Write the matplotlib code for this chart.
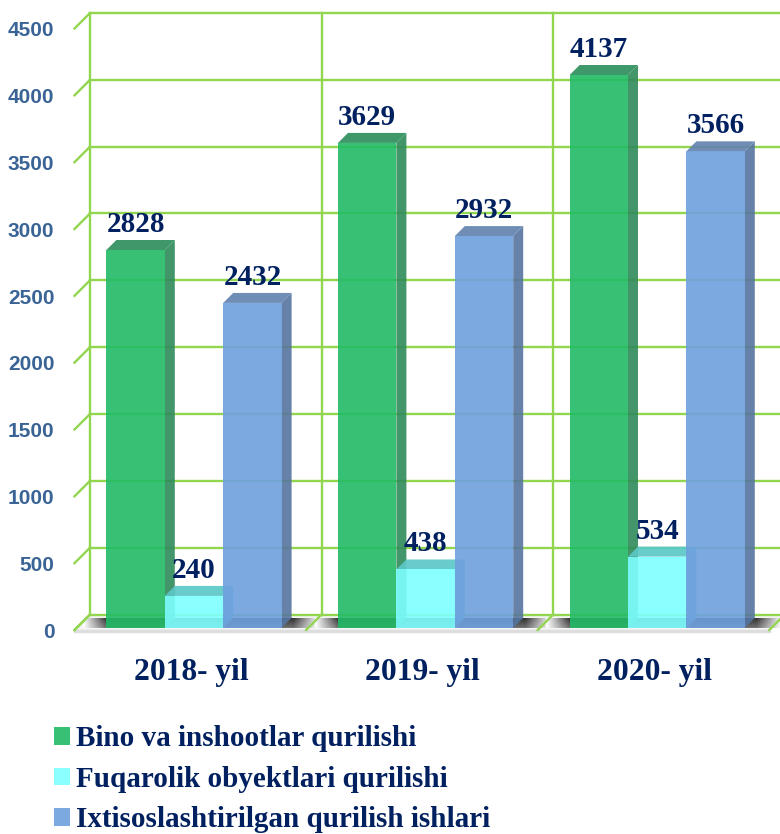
import numpy as np
import matplotlib
matplotlib.use('Agg')
import matplotlib.pyplot as plt
from matplotlib.patches import Polygon

# Data
years = ['2018- yil', '2019- yil', '2020- yil']
bino = [2828, 3629, 4137]
fuqarolik = [240, 438, 534]
ixtisos = [2432, 2932, 3566]
series_names = ['Bino va inshootlar qurilishi',
                'Fuqarolik obyektlari qurilishi',
                'Ixtisoslashtirilgan qurilish ishlari']
y_ticks = [0, 500, 1000, 1500, 2000, 2500, 3000, 3500, 4000, 4500]

# Colours: front, top, side
colors = [('#22BB66', '#2E8F5C', '#2E8A5A'),
          ('#7DFFFF', '#5CC8C8', '#55C8D8'),
          ('#6FA0DE', '#6483B0', '#56759F')]
grid_color = '#92D650'
navy = '#002060'
W, H = 780, 834
group_px = 231.6    # pixels per category
bar_width = 58.4 / group_px
bar_depth = 10      # px
wall_depth = 15.5   # px

fig = plt.figure(figsize=(W / 100, H / 100), dpi=100)
left_px, right_px, bottom_px, top_px = 74.5, 780, 630, 28.5
ax = fig.add_axes([left_px / W, 1 - bottom_px / H,
                   (right_px - left_px) / W, (bottom_px - top_px) / H])
ax.set_xlim((left_px - 194) / group_px, (right_px - 194) / group_px)
ax.set_ylim(0, 4500)
ax.axis('off')
xlim = ax.get_xlim()

px_x = 1 / group_px
px_y = 4500 / (bottom_px - top_px)
x0 = xlim[0]
wall_x = x0 + wall_depth * px_x
wall_y = wall_depth * px_y

# white floor, grey front edge and the dark shadow behind the bars
for i in range(3):
    xl = x0 + i
    ax.add_patch(Polygon([(xl, 0), (xl + wall_depth * px_x, wall_y),
                          (xl + 1 + wall_depth * px_x, wall_y), (xl + 1, 0)],
                         fc='#F4F4F4', ec='none', zorder=1))
    grad = np.concatenate([np.linspace(0, 1, 24), np.ones(186), np.linspace(1, 0, 26)])
    shade = np.tile(grad, (10, 1))
    shade = shade * np.linspace(1, 0.7, 10)[:, None]
    ax.imshow(1 - 0.8 * shade, cmap='gray', vmin=0, vmax=1, aspect='auto', zorder=1.5,
              extent=(i - 111 * px_x, i + 125 * px_x, 2 * px_y, 12 * px_y))
ax.set_xlim(xlim)
ax.set_ylim(0, 4500)
ax.plot([x0, x0 + 3], [-1 * px_y] * 2, color='#DDDDDD', lw=2.5, clip_on=False, zorder=1.6)

# back wall grid, with the diagonals running to the front
for v in y_ticks:
    ax.plot([wall_x, 2.6], [v + wall_y] * 2, color=grid_color, lw=1.7, zorder=2, clip_on=False)
    ax.plot([x0, wall_x], [v, v + wall_y], color=grid_color, lw=1.7, zorder=2, clip_on=False)
for i in range(3):
    ax.plot([wall_x + i] * 2, [wall_y, 4500 + wall_y], color=grid_color, lw=1.7, zorder=2, clip_on=False)
for i in range(4):
    ax.plot([x0 + i, wall_x + i], [0, wall_y], color=grid_color, lw=1.7, zorder=2, clip_on=False)

# bars, drawn as front face plus top and side faces
x = np.arange(3)
handles = []
for k, values in enumerate([bino, fuqarolik, ixtisos]):
    front, top, side = colors[k]
    xs = x + (k - 1) * bar_width
    base_y = 2 * px_y
    dx, dy = bar_depth * px_x, bar_depth * px_y
    for xc, val in zip(xs, values):
        xa, xb = xc - bar_width / 2, xc + bar_width / 2
        yt = val + base_y
        ax.add_patch(Polygon([(xb, base_y), (xb + dx, base_y + dy), (xb + dx, yt + dy), (xb, yt)],
                             fc=side, ec='none', alpha=0.9, zorder=3 + k))
        ax.add_patch(Polygon([(xa, yt), (xa + dx, yt + dy), (xb + dx, yt + dy), (xb, yt)],
                             fc=top, ec='none', alpha=0.92, zorder=3 + k))
    bars = ax.bar(xs, values, bottom=base_y, width=bar_width, color=front,
                  alpha=0.9, label=series_names[k], zorder=3.5 + k)
    handles.append(bars)
    for xc, val in zip(xs, values):
        ax.annotate(str(val), (xc, val + base_y), xytext=(0, 13), textcoords='offset points',
                    ha='center', va='baseline', fontsize=21, fontweight='bold',
                    family='Liberation Serif', color=navy, zorder=10)

# tick labels
for v in y_ticks:
    ax.annotate(str(v), (x0, v), xytext=(-14.5, -1.6), textcoords='offset points', ha='right',
                va='center', fontsize=15, fontweight='bold', color='#3A6496',
                family='Liberation Sans', annotation_clip=False)
for i, name in enumerate(years):
    ax.annotate(name, (i, 0), xytext=(-2, -30.4), textcoords='offset points', ha='center', va='center',
                fontsize=22.7, fontweight='bold', family='Liberation Serif', color=navy,
                annotation_clip=False)

leg = fig.legend(handles=handles, loc='upper left', bbox_to_anchor=(54 / W, 1 - 725.5 / H),
                 frameon=False, ncol=1, handlelength=0.55, handleheight=0.55, handletextpad=0.2,
                 labelspacing=0.46, borderpad=0, borderaxespad=0,
                 prop={'family': 'Liberation Serif', 'weight': 'bold', 'size': 21})
for t in leg.get_texts():
    t.set_color(navy)
for h in leg.legend_handles:
    h.set_alpha(0.9)

fig.savefig('out.png', dpi=100)
